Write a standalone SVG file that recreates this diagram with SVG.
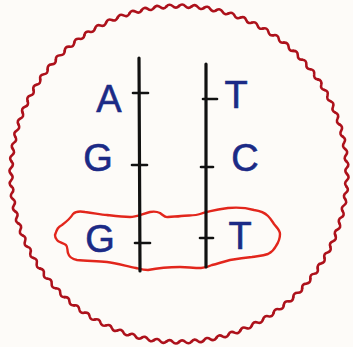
<svg xmlns="http://www.w3.org/2000/svg" xmlns:xlink="http://www.w3.org/1999/xlink" width="353" height="347" viewBox="0 0 353 347">
  <style>
    .wave { fill: none; stroke: #ad111b; stroke-width: 2.6; stroke-linecap: round; stroke-linejoin: round; }
    .strand { stroke: #111; stroke-width: 3.2; stroke-linecap: round; fill: none; }
    .tick { stroke: #111; stroke-width: 2.6; stroke-linecap: round; }
    .base { font-family: "Liberation Sans", "DejaVu Sans", sans-serif; font-size: 38px; fill: #1b2a86; stroke: #1b2a86; stroke-width: 0.6; text-anchor: middle; }
    .blob { fill: none; stroke: #e2261c; stroke-width: 2.4; stroke-linejoin: round; }
  </style>
  <defs>
    <path id="w1" class="wave" d="M168,0 Q171.17,3.20 167.88,6.28 Q164.54,9.24 167.53,12.56"/>
    <g id="w7">
      <use xlink:href="#w1"/>
      <use xlink:href="#w1" transform="rotate(4.2857)"/>
      <use xlink:href="#w1" transform="rotate(8.5714)"/>
      <use xlink:href="#w1" transform="rotate(12.8571)"/>
      <use xlink:href="#w1" transform="rotate(17.1429)"/>
      <use xlink:href="#w1" transform="rotate(21.4286)"/>
      <use xlink:href="#w1" transform="rotate(25.7143)"/>
    </g>
  </defs>
  <rect width="353" height="347" fill="#fdfbf8"/>

  <g id="boundary" transform="translate(179,174)">
    <use xlink:href="#w7"/>
    <use xlink:href="#w7" transform="rotate(30)"/>
    <use xlink:href="#w7" transform="rotate(60)"/>
    <use xlink:href="#w7" transform="rotate(90)"/>
    <use xlink:href="#w7" transform="rotate(120)"/>
    <use xlink:href="#w7" transform="rotate(150)"/>
    <use xlink:href="#w7" transform="rotate(180)"/>
    <use xlink:href="#w7" transform="rotate(210)"/>
    <use xlink:href="#w7" transform="rotate(240)"/>
    <use xlink:href="#w7" transform="rotate(270)"/>
    <use xlink:href="#w7" transform="rotate(300)"/>
    <use xlink:href="#w7" transform="rotate(330)"/>
  </g>

  <g id="mismatch-highlight">
    <path class="blob" d="M55,235 C57,229 58,227 62,225 C66,222 70,219 73,214 C76,211 80,211 85,212 C95,213 100,215 107,215 C115,216 122,217 130,217 C136,217 142,214 150,212 C155,211 158,212 160,213 C163,215 165,218 168,217 C173,216 176,217 181,216 C188,215 195,216 200,214 C205,212 215,210 228,208 C238,207 247,208 254,210 C261,211 265,213 268,216 C271,219 272,221 274,224 C277,228 280,230 280,234 C280,240 278,243 276,246 C274,250 272,252 268,254 C262,256 257,256 252,257 C242,258 236,259 230,260 C222,262 217,264 212,265 C208,267 205,268 201,268 C193,268 187,267 180,267 C170,267 158,268 148,270 C143,270 140,269 136,268 C126,266 116,263 107,262 C96,261 86,261 77,260 C72,259 69,257 68,253 C67,250 68,247 66,245 C63,243 58,242 57,240 C55,238 55,237 55,235 Z"/>
  </g>

  <g id="connectors">
    <line id="strand-left" class="strand" x1="139" y1="58" x2="140" y2="271"/>
    <line id="strand-right" class="strand" x1="206" y1="64" x2="206" y2="267"/>
    <line class="tick" x1="133" y1="93" x2="148" y2="93"/>
    <line class="tick" x1="132" y1="165" x2="147" y2="165"/>
    <line class="tick" x1="135" y1="243" x2="150" y2="243"/>
    <line class="tick" x1="203" y1="99" x2="217" y2="99"/>
    <line class="tick" x1="201" y1="167" x2="213" y2="167"/>
    <line class="tick" x1="200" y1="238" x2="213" y2="238"/>
  </g>

  <g id="base-A"><text class="base" x="109" y="112">A</text></g>
  <g id="base-G1"><text class="base" x="98" y="171">G</text></g>
  <g id="base-G2"><text class="base" x="100" y="252">G</text></g>
  <g id="base-T1"><text class="base" x="236" y="108">T</text></g>
  <g id="base-C"><text class="base" x="245" y="171">C</text></g>
  <g id="base-T2"><text class="base" x="240" y="249">T</text></g>
</svg>
